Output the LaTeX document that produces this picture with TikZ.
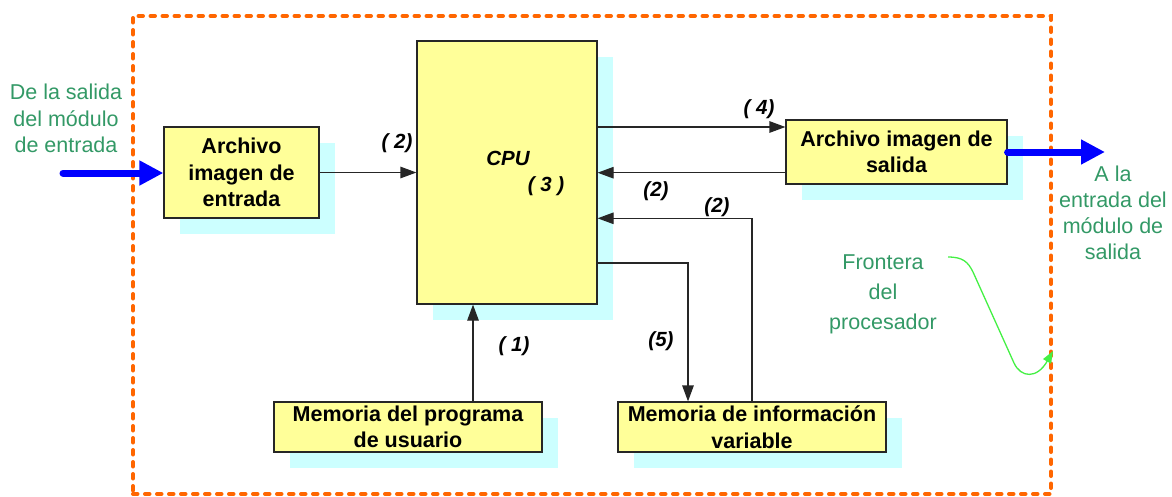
\documentclass[tikz,border=0pt]{standalone}
\usepackage{fontspec}
\setmainfont{Liberation Sans}
\usetikzlibrary{arrows.meta,shadows,calc}

\definecolor{boxfill}{HTML}{FFFF99}
\definecolor{shade}{HTML}{CCFFFF}
\definecolor{flowblue}{HTML}{0000FF}
\definecolor{note}{HTML}{339966}
\definecolor{border}{HTML}{FF6600}
\definecolor{pointer}{HTML}{44F044}

\tikzset{
  unit/.style={draw=black!85, line width=1.2pt, fill=boxfill, align=center, inner sep=0pt,
    font=\fontsize{21.5}{26.5}\selectfont\bfseries,
    drop shadow={shadow xshift=15.5pt, shadow yshift=-15.5pt, fill=shade, opacity=1}},
  tag/.style={inner sep=0pt, font=\fontsize{20.5}{24}\selectfont\bfseries\itshape},
  notetext/.style={inner sep=0pt, align=center, text=note, font=\fontsize{21.5}{26.2}\selectfont},
  conn/.style={draw=black!85, line width=1.2pt, -{Triangle[length=16pt,width=11.5pt]}},
  flow/.style={draw=flowblue, line width=7pt, line cap=round,
    -{Triangle[length=24pt,width=23.5pt]}},
  bound/.style={draw=border, line width=4pt, dash pattern=on 4.5pt off 7.5pt, line cap=round,
    inner sep=0pt},
  hint/.style={draw=pointer, line width=1.3pt, -{Triangle[length=12pt,width=9pt]}}
}

\begin{document}
\begin{tikzpicture}[x=1pt,y=-1pt]
  \useasboundingbox (0,0) rectangle (1172,496);

  % processor boundary
  \node[bound, minimum width=918pt, minimum height=478pt] (proc) at (592,255) {};

  % functional blocks
  \node[unit, minimum width=180pt, minimum height=263pt] (cpu) at (507,172.5) {};
  \node[unit, minimum width=155pt, minimum height=91pt] (ent) at (241.5,172.5)
    {Archivo\\imagen de\\entrada};
  \node[unit, minimum width=221pt, minimum height=64pt] (sal) at (896.5,152)
    {Archivo imagen de\\salida};
  \node[unit, minimum width=268pt, minimum height=50pt] (mprog) at (408,427)
    {Memoria del programa\\de usuario};
  \node[unit, minimum width=268pt, minimum height=50pt] (mvar) at (752,427)
    {Memoria de información\\variable};

  \node[tag] (cpuname) at (508,158) {CPU};
  \node[tag] (cpustep) at (546,186) {( 3 )};

  % routing levels
  \coordinate (y4) at (0,127);
  \coordinate (yback) at (0,172.7);
  \coordinate (yvar) at (0,218.3);
  \coordinate (k5) at (688,263);
  \coordinate (k1) at (473,0);

  % data paths
  \draw[conn] (ent.east) -- (ent.east -| cpu.west);
  \draw[conn] (cpu.east |- y4) -- (sal.west |- y4);
  \draw[conn] (sal.west |- yback) -- (cpu.east |- yback);
  \draw[conn] (mvar.north) |- (cpu.east |- yvar);
  \draw[conn] (cpu.east |- k5) -| (mvar.north -| k5);
  \draw[conn] (mprog.north -| k1) -- (cpu.south -| k1);

  % step numbers
  \node[tag] (t2a) at (397,143) {( 2)};
  \node[tag] (t4) at (759,109) {( 4)};
  \node[tag] (t2b) at (656,191) {(2)};
  \node[tag] (t2c) at (717,207) {(2)};
  \node[tag] (t1) at (514,346) {( 1)};
  \node[tag] (t5) at (661,341) {(5)};

  % module interfaces
  \coordinate (inlet) at (63,173);
  \coordinate (outlet) at (1105,152);
  \draw[flow] (inlet) -- (ent.west |- inlet);
  \draw[flow] (sal.east) -- (outlet);

  \node[notetext] (src) at (66,118.5) {De la salida\\del módulo\\de entrada};
  \node[notetext] (dst) at (1113,213) {A la\\entrada del\\módulo de\\salida};
  \node[notetext, font=\fontsize{21.5}{30}\selectfont] (front) at (883,294.5)
    {Frontera\\del\\procesador};

  % pointer to the boundary
  \coordinate (hstart) at (948,257);
  \coordinate (htip) at (0,351);
  \draw[hint] (hstart) .. controls (963,257) and (968,262) .. (973,272)
    -- (1014,363) .. controls (1021,378) and (1037,379) .. (proc.east |- htip);
\end{tikzpicture}
\end{document}
